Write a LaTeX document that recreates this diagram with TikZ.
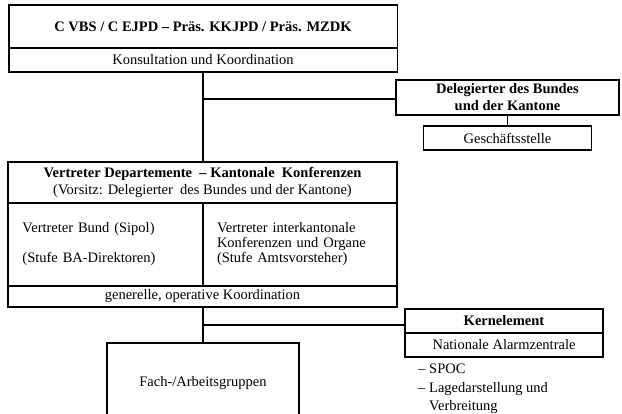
\documentclass[tikz,border=0pt]{standalone}
\usepackage{fontspec}
\setmainfont{Liberation Serif}
\begin{document}
\begin{tikzpicture}[x=1pt,y=-1pt,
  box/.style={draw=black,line width=1.5pt,inner sep=0pt,align=center,
    font=\fontsize{14.5}{17}\selectfont},
  cell/.style={draw=black,line width=1.5pt,inner xsep=14pt,inner ysep=0pt,
    align=left,text width=166pt,minimum height=83pt,
    font=\fontsize{14.5}{15}\selectfont},
  txt/.style={inner sep=0pt,anchor=west,font=\fontsize{14.5}{17}\selectfont},
  conn/.style={line width=1.5pt}]
\useasboundingbox (0,0) rectangle (622,413);
\fill[white] (0,0) rectangle (622,413);
% top group
\node[box,minimum width=388.5pt,minimum height=43pt] (top) at (203,26.5) {\textbf{C VBS / C EJPD – Präs. KKJPD / Präs. MZDK}};
\node[box,minimum width=388.5pt,minimum height=24pt] (kons) at (203,60) {Konsultation und Koordination};
% delegate
\node[box,minimum width=223pt,minimum height=35pt] (deleg) at (507.5,97.5) {\textbf{Delegierter des Bundes}\\\textbf{und der Kantone}};
\node[box,minimum width=168pt,minimum height=24pt] (gs) at (507.5,138) {Geschäftsstelle};
% middle group
\node[box,minimum width=389pt,minimum height=41pt] (vd) at (202.5,182.5) {\textbf{Vertreter Departemente \ – Kantonale \ Konferenzen}\\(Vorsitz: Delegierter \ des Bundes und der Kantone)};
\node[cell,minimum width=195pt] (vb) at (105.5,244.5) {Vertreter Bund (Sipol)\\\strut\\(Stufe BA-Direktoren)};
\node[cell,minimum width=194pt] (vk) at (300,244.5) {Vertreter interkantonale\\Konferenzen und Organe\\(Stufe Amtsvorsteher)};
\node[box,minimum width=389pt,minimum height=21pt] (gen) at (202.5,296.5) {generelle, operative Koordination};
% kernelement
\node[box,minimum width=198pt,minimum height=24pt] (kern) at (504,321) {\textbf{Kernelement}};
\node[box,minimum width=198pt,minimum height=24pt] (naz) at (504,345) {Nationale Alarmzentrale};
\node[txt] (b1) at (418,370) {\strut\makebox[11pt][l]{–}SPOC};
\node[txt] (b2) at (418,389) {\strut\makebox[11pt][l]{–}Lagedarstellung und};
\node[txt] (b3) at (429,407) {\strut Verbreitung};
% working groups
\node[box,minimum width=192pt,minimum height=80pt] (fach) at (203,383) {Fach-/Arbeitsgruppen};
% connectors
\coordinate (j1) at (203,99);
\coordinate (j2) at (203,325);
\draw[conn] (kons.south) -- (vd.north -| kons.south);
\draw[conn] (j1) -- (j1 -| deleg.west);
\draw[conn] (deleg.south) -- (gs.north);
\draw[conn] (gen.south -| fach.north) -- (fach.north);
\draw[conn] (j2) -- (j2 -| kern.west);
\end{tikzpicture}
\end{document}
